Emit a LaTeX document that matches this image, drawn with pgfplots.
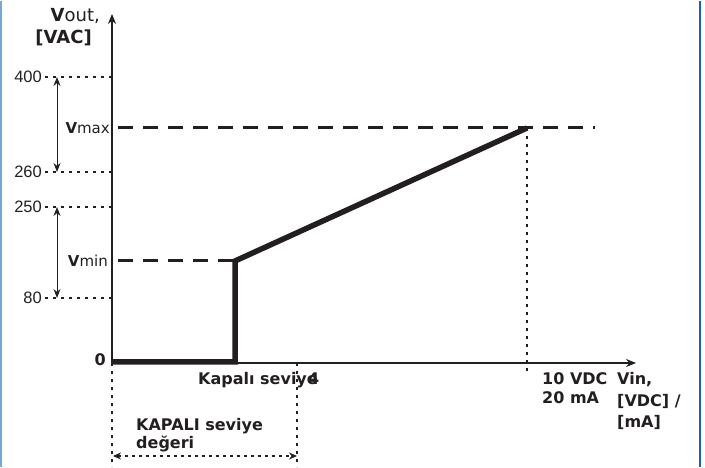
\documentclass[border=0pt]{standalone}
\usepackage{pgfplots}
\pgfplotsset{compat=1.18}
\usepackage{fontspec}
\setmainfont{DejaVu Sans}
\newfontfamily\arialf{Liberation Sans}
\usetikzlibrary{arrows.meta}
\definecolor{ink}{HTML}{231F20}
\definecolor{lblue}{HTML}{7AA7CF}
\definecolor{dblue}{HTML}{1F5FA8}
\begin{document}
\begin{tikzpicture}
\begin{axis}[x=1pt,y=1pt,xmin=-112,xmax=593,ymin=-104,ymax=362,hide axis,clip=false]
\path[draw=none] (axis cs:-112,-104) rectangle (axis cs:593,362);
% borders
\draw[lblue, line width=2pt] (axis cs:-111,-104) -- (axis cs:-111,362);
\draw[dblue, line width=2pt] (axis cs:588,-104) -- (axis cs:588,362);
% dotted helper lines
\draw[ink, line width=1.1pt, dash pattern=on 2.5pt off 5.5pt] (axis cs:-67,286) -- (axis cs:0,286);
\draw[ink, line width=1.1pt, dash pattern=on 2.5pt off 5.5pt] (axis cs:-67,191) -- (axis cs:0,191);
\draw[ink, line width=1.1pt, dash pattern=on 2.5pt off 5.5pt] (axis cs:-67,156) -- (axis cs:0,156);
\draw[ink, line width=1.1pt, dash pattern=on 2.5pt off 5.5pt] (axis cs:-67,65) -- (axis cs:0,65);
\draw[ink, line width=1.1pt, dash pattern=on 3pt off 5pt] (axis cs:415,235) -- (axis cs:415,-8);
\draw[ink, line width=1.1pt, dash pattern=on 3pt off 5pt] (axis cs:185,0) -- (axis cs:185,-104);
\draw[ink, line width=1.1pt, dash pattern=on 3pt off 5pt] (axis cs:0,0) -- (axis cs:0,-104);
\draw[ink, line width=1.1pt, dash pattern=on 3pt off 4pt, {Stealth[length=8pt,width=7pt]}-{Stealth[length=8pt,width=7pt]}] (axis cs:1,-93) -- (axis cs:185,-93);
% range arrows
\draw[ink, line width=1pt, {Stealth[length=9pt,width=7pt]}-{Stealth[length=9pt,width=7pt]}] (axis cs:-55,286) -- (axis cs:-55,191);
\draw[ink, line width=1pt, {Stealth[length=9pt,width=7pt]}-{Stealth[length=9pt,width=7pt]}] (axis cs:-55,156) -- (axis cs:-55,65);
% axes
\draw[ink, line width=1.3pt, -{Stealth[length=10pt,width=8pt]}] (axis cs:0,0) -- (axis cs:0,349);
\draw[ink, line width=1.3pt, -{Stealth[length=10pt,width=8pt]}] (axis cs:0,0) -- (axis cs:524,0);
% dashed levels
\addplot[ink, line width=3pt, dash pattern=on 15pt off 10pt] coordinates {(6,235) (483,235)};
\addplot[ink, line width=3pt, dash pattern=on 15pt off 10pt] coordinates {(6,102) (123,102)};
% characteristic
\addplot[ink, line width=5.5pt, line join=miter] coordinates {(0,1) (123,1) (123,102) (415,235)};
% labels
\node[ink, anchor=base east, font=\fontsize{18}{20}\selectfont, inner sep=0pt] at (axis cs:-12,341) {\textbf{V}out,};
\node[ink, anchor=base east, font=\fontsize{18}{20}\selectfont\bfseries, inner sep=0pt] at (axis cs:-20,319) {[VAC]};
\node[ink, anchor=east, font=\arialf\fontsize{16.5}{18}\selectfont, inner sep=0pt] at (axis cs:-70,286) {400};
\node[ink, anchor=east, font=\arialf\fontsize{16.5}{18}\selectfont, inner sep=0pt] at (axis cs:-70,191) {260};
\node[ink, anchor=east, font=\arialf\fontsize{16.5}{18}\selectfont, inner sep=0pt] at (axis cs:-70,156) {250};
\node[ink, anchor=east, font=\arialf\fontsize{16.5}{18}\selectfont, inner sep=0pt] at (axis cs:-70,65) {80};
\node[ink, anchor=east, font=\fontsize{16}{18}\selectfont\bfseries, inner sep=0pt] at (axis cs:-6,3) {0};
\node[ink, anchor=east, font=\fontsize{15}{17}\selectfont, inner sep=0pt] at (axis cs:-2,235) {\textbf{V}max};
\node[ink, anchor=east, font=\fontsize{15}{17}\selectfont, inner sep=0pt] at (axis cs:-4,102) {\textbf{V}min};
\node[ink, anchor=base west, font=\fontsize{16}{18}\selectfont\bfseries, inner sep=0pt] at (axis cs:86,-22) {Kapalı seviye};
\node[ink, anchor=base west, font=\fontsize{16}{18}\selectfont\bfseries, inner sep=0pt] at (axis cs:196,-22) {4};
\node[ink, anchor=base west, font=\fontsize{16}{18}\selectfont\bfseries, inner sep=0pt] at (axis cs:430,-22) {10 VDC};
\node[ink, anchor=base west, font=\fontsize{16}{18}\selectfont\bfseries, inner sep=0pt] at (axis cs:430,-41) {20 mA};
\node[ink, anchor=base west, font=\fontsize{16}{18}\selectfont\bfseries, inner sep=0pt] at (axis cs:505,-22) {Vin,};
\node[ink, anchor=base west, font=\fontsize{16}{18}\selectfont\bfseries, inner sep=0pt] at (axis cs:505,-44) {[VDC] /};
\node[ink, anchor=base west, font=\fontsize{16}{18}\selectfont\bfseries, inner sep=0pt] at (axis cs:505,-65) {[mA]};
\node[ink, anchor=base west, font=\fontsize{16}{18}\selectfont\bfseries, inner sep=0pt] at (axis cs:24,-68) {KAPALI seviye};
\node[ink, anchor=base west, font=\fontsize{16}{18}\selectfont\bfseries, inner sep=0pt] at (axis cs:24,-86) {değeri};
\end{axis}
\end{tikzpicture}
\end{document}
